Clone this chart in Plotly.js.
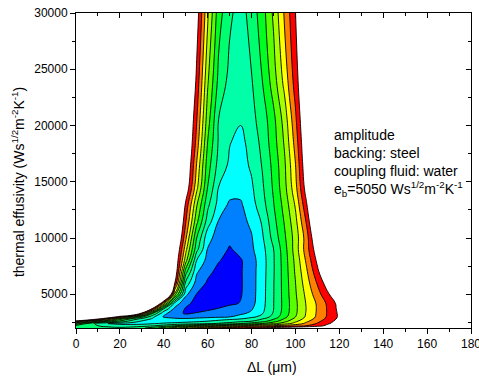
<!DOCTYPE html>
<html>
<head>
<meta charset="utf-8">
<script src="https://cdn.plot.ly/plotly-3.0.1.min.js"></script>
<style>html,body{margin:0;padding:0;background:#fff}#chart{width:479px;height:377px}</style>
</head>
<body>
<div id="chart"></div>
<script>
// Layer thickness ΔL (µm) – grid columns
const thicknessUm = [0,5,10,15,20,25,30,35,40,45,50,55,60,65,70,75,80,85,90,95,100,105,110,115,120,125,130,180];
// Thermal effusivity (Ws^1/2 m^-2 K^-1) – grid rows
const effusivity = [2000,2200,2400,2600,2800,3000,3300,3700,4200,5000,6000,7000,8000,9000,10000,11500,13000,14500,16500,18500,20500,24000,30000];
// Amplitude contour level, one row per effusivity value
const amplitudeLevel = [
 [7.2,7.4,7.6,7.7,7.8,7.6,7.2,6.5,5.5,4.4,3.4,2.6,2.0,1.6,1.3,1.1,0.9,0.7,0.5,0.3,0.1,-0.2,-0.5,-1,-1.5,-2,-3,-5],
 [7.3,7.7,7.98,8.3,8.5,8.5,8.4,8.1,7.6,6.98,6.3,5.7,5.2,4.8,4.4,3.98,3.6,3.2,2.9,2.6,2.3,1.98,1.5,0.6,-0.5,-2,-3,-5],
 [5.2,6.98,8.5,9.05,9.3,9.35,9.3,9.1,8.9,8.75,8.6,8.45,8.2,7.9,7.6,7.1,6.6,5.98,5.3,4.5,3.64,2.75,1.92,1.13,0.33,-0.5,-3,-5],
 [1.8,3.5,5.02,6.2,7.2,8.4,9.1,9.3,9.42,9.42,9.3,9.15,8.98,8.75,8.5,8.25,7.98,7.33,6.44,5.33,4.22,3.2,2.27,1.4,0.53,-0.5,-3,-5],
 [-3,-1.3,0.95,3.29,5.5,7.19,8.44,9.16,9.48,9.79,9.82,9.66,9.49,9.33,9.16,8.98,8.5,7.98,7.09,5.88,4.67,3.6,2.6,1.64,0.73,-0.5,-3,-5],
 [-3,-3,-3,-0.95,1.68,4.29,6.57,8.76,10.12,10.37,10.62,10.48,10.34,10.2,10.06,9.73,9.27,8.64,7.64,6.34,5.02,3.83,2.8,1.8,0.82,-0.3,-3,-5],
 [-4,-4,-4,-4,-4,-4,1.56,7.02,9.69,10.67,11.1,10.92,10.73,10.54,10.35,10.15,9.84,9.05,7.9,6.55,5.16,3.91,2.86,1.83,0.79,-0.3,-3,-5],
 [-4,-4,-4,-4,-4,-4,-4,1.71,8.12,10.26,11.08,11.35,11.16,10.94,10.66,10.37,10.09,9.22,8.02,6.63,5.21,3.96,2.89,1.82,0.68,-0.5,-3,-5],
 [-5,-5,-5,-5,-5,-5,-5,-5,3.33,9.32,10.78,11.27,11.6,11.39,11.19,10.95,10.31,9.32,8.03,6.65,5.21,3.91,2.85,1.74,0.58,-0.6,-3,-5],
 [-6,-6,-6,-6,-6,-6,-6,-6,-6,4.4,9.75,11.03,11.38,11.72,11.4,11.08,10.39,9.35,8.05,6.61,5.11,3.74,2.42,1.11,-0.21,-2.5,-3,-5],
 [-3,-3,-3,-3,-3,-3,-3,-3,-3,0.95,8.29,10.4,11.13,11.46,11.5,11.11,10.4,9.38,8.06,6.58,5.02,3.45,1.9,0.29,-1.3,-3,-3,-5],
 [-3,-3,-3,-3,-3,-3,-3,-3,-3,-0.3,6.56,9.87,10.76,11.26,11.48,11.1,10.4,9.41,8.09,6.55,4.87,3.17,1.28,-0.7,-3,-3,-3,-5],
 [-3,-3,-3,-3,-3,-3,-3,-3,-3,-0.5,4.6,9.02,10.35,10.94,11.29,11.1,10.4,9.43,8.09,6.5,4.74,2.83,0.75,-1.3,-3,-3,-3,-5],
 [-3,-3,-3,-3,-3,-3,-3,-3,-3,-1,3.64,7.67,10.05,10.52,11.1,10.69,10.17,9.31,8.02,6.4,4.54,2.48,0.23,-2,-3,-3,-3,-5],
 [-3,-3,-3,-3,-3,-3,-3,-3,-3,-1.7,2.8,7.0,9.7,10.4,10.75,10.49,10.07,9.11,7.66,6.18,4.57,2.5,-0.5,-3,-3,-3,-3,-5],
 [-3,-3,-3,-3,-3,-3,-3,-3,-3,-2.3,1.9,5.7,8.45,10.05,10.35,10.26,9.82,8.84,7.33,5.91,4.29,1.87,-1.5,-3,-3,-3,-3,-5],
 [-3,-3,-3,-3,-3,-3,-3,-3,-3,-2.6,1.2,4.86,7.74,9.36,10.15,10.12,9.38,8.37,7.05,5.63,3.86,1.13,-2,-3,-3,-3,-3,-5],
 [-3,-3,-3,-3,-3,-3,-3,-3,-3,-3,-0.02,3.71,7.02,9.02,9.53,9.65,9.15,8.13,6.86,5.33,3.33,0.44,-2.5,-3,-3,-3,-3,-5],
 [-3,-3,-3,-3,-3,-3,-3,-3,-3,-3,-0.64,3.07,6.53,8.37,9.17,9.4,8.84,7.91,6.71,5.17,3.02,-0.02,-2.5,-3,-3,-3,-3,-5],
 [-3,-3,-3,-3,-3,-3,-3,-3,-3,-3,-1,2.38,6.02,8.12,8.95,9.3,8.6,7.71,6.46,4.88,2.61,-0.3,-2.5,-3,-3,-3,-3,-5],
 [-3,-3,-3,-3,-3,-3,-3,-3,-3,-3,-1.2,1.94,5.53,8.02,8.65,8.9,8.3,7.55,6.28,4.58,2.21,-0.56,-2.5,-3,-3,-3,-3,-5],
 [-3,-3,-3,-3,-3,-3,-3,-3,-3,-3,-2.1,1.27,4.85,7.28,8.3,8.63,8.06,6.98,5.5,3.67,1.52,-0.65,-2.5,-3,-3,-3,-3,-5],
 [-3,-3,-3,-3,-3,-3,-3,-3,-3,-3,-2.9,0.4,3.85,6.58,7.8,8.44,7.58,6.43,4.81,2.88,1.02,-0.85,-2.5,-3,-3,-3,-3,-5]
];
// Band colours from outside (white) to the innermost level (blue)
const bandColors = ['#FFFFFF','#FF0000','#FF8000','#FFFF00','#A8FF00','#58FF00','#00FF20','#00FF70','#00FFA8','#00FFFF','#0080FF','#0000FF'];
const xRange = [0,180];
const yRange = [2000,30000];
const xTickVals = [0,20,40,60,80,100,120,140,160,180];
const yTickVals = [5000,10000,15000,20000,25000,30000];
const noteLines = [
  'amplitude',
  'backing: steel',
  'coupling fluid: water',
  'e<sub>b</sub>=5050 Ws<sup>1/2</sup>m<sup>-2</sup>K<sup>-1</sup>'
];

const FONT = 'Arial, "Liberation Sans", sans-serif';
const nLevels = bandColors.length - 1;
const colorscale = bandColors.map((c, i) => [i / nLevels, c]);

const contour = {
  type: 'contour',
  x: thicknessUm,
  y: effusivity,
  z: amplitudeLevel,
  autocontour: false,
  contours: {start: 1, end: nLevels, size: 1, coloring: 'fill', showlines: true},
  colorscale: colorscale,
  showscale: false,
  line: {color: '#000', width: 0.9, smoothing: 1.3},
  hoverinfo: 'skip'
};
const mirrorTrace = {type: 'scatter', x: [], y: [], xaxis: 'x2', yaxis: 'y2', showlegend: false, hoverinfo: 'skip'};

const axisCommon = {showgrid: false, zeroline: false, showline: true, linecolor: '#000', linewidth: 1,
  tickcolor: '#000', tickwidth: 1, tickfont: {family: FONT, size: 12, color: '#000'}, ticklabeloverflow: 'allow'};

const layout = {
  width: 479, height: 377,
  margin: {l: 76, r: 8, t: 13, b: 49},
  paper_bgcolor: '#fff', plot_bgcolor: '#fff',
  showlegend: false,
  font: {family: FONT, size: 12, color: '#000'},
  xaxis: Object.assign({}, axisCommon, {range: xRange, tickmode: 'array', tickvals: xTickVals,
    ticktext: xTickVals.map(String), ticks: 'outside', ticklen: 5,
    minor: {dtick: 10, tick0: 0, ticks: 'outside', ticklen: 3, tickcolor: '#000'}}),
  yaxis: Object.assign({}, axisCommon, {range: yRange, tickmode: 'array', tickvals: yTickVals,
    ticktext: yTickVals.map(String), ticks: 'outside', ticklen: 5,
    minor: {dtick: 2500, tick0: 0, ticks: 'outside', ticklen: 3, tickcolor: '#000'}}),
  xaxis2: Object.assign({}, axisCommon, {overlaying: 'x', side: 'top', anchor: 'y2', range: xRange, dtick: 20, tick0: 0,
    ticks: 'inside', ticklen: 5, showticklabels: false,
    minor: {dtick: 10, ticks: 'inside', ticklen: 3, tickcolor: '#000'}}),
  yaxis2: Object.assign({}, axisCommon, {overlaying: 'y', side: 'right', anchor: 'x2', range: yRange, dtick: 5000, tick0: 0,
    ticks: 'inside', ticklen: 5, showticklabels: false,
    minor: {dtick: 2500, ticks: 'inside', ticklen: 3, tickcolor: '#000'}}),
  annotations: [
    {xref: 'paper', yref: 'paper', x: -0.147, y: 0.463, textangle: -90, showarrow: false,
     xanchor: 'center', yanchor: 'middle',
     text: 'thermal effusivity (Ws<sup>1/2</sup>m<sup>-2</sup>K<sup>-1</sup>)', font: {family: FONT, size: 14, color: '#000'}},
    {xref: 'paper', yref: 'paper', x: 0.497, y: -0.124, showarrow: false, xanchor: 'center', yanchor: 'middle',
     text: '\u0394L (\u03bcm)', font: {family: FONT, size: 14, color: '#000'}}
  ].concat(noteLines.map((t, i) => ({
    xref: 'paper', yref: 'paper', x: 0.647, y: [0.612, 0.556, 0.499, 0.44][i], showarrow: false,
    xanchor: 'left', yanchor: 'middle', align: 'left', text: t, font: {family: FONT, size: 14, color: '#000'}
  })))
};

Plotly.newPlot('chart', [contour, mirrorTrace], layout, {staticPlot: true, displayModeBar: false});
</script>
</body>
</html>
